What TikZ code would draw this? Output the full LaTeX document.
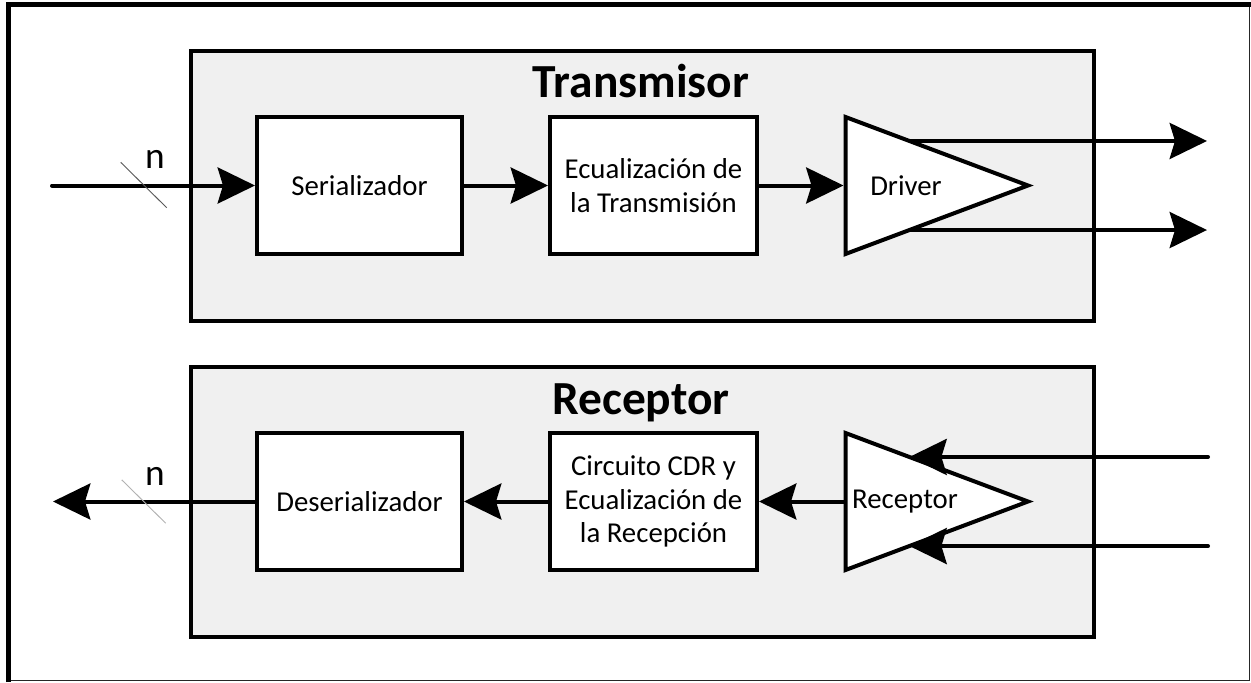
\documentclass[tikz,border=0pt]{standalone}
\usepackage{fontspec}
\setmainfont{Carlito}
\usetikzlibrary{arrows.meta,calc}
\definecolor{panelgray}{HTML}{F0F0F0}
\tikzset{
  panel/.style={draw, line width=3pt, fill=panelgray, inner sep=0pt},
  block/.style={draw, line width=3pt, fill=white, align=center, inner sep=0pt,
    minimum height=102.75pt, font=\fontsize{21.6}{25}\selectfont},
  heading/.style={anchor=base, font=\fontsize{35.6}{40}\selectfont\bfseries},
  amp/.style={draw, line width=3pt, fill=white, line join=miter},
  amplabel/.style={inner sep=0pt, font=\fontsize{21.6}{25}\selectfont},
  wire/.style={line width=3pt, line cap=round},
  flow/.style={wire, -{Stealth[length=28pt, width=27pt, inset=4pt]}},
  busmark/.style={line width=0.7pt},
  buslabel/.style={anchor=base, inner sep=0pt, font=\fontsize{28}{30}\selectfont},
}
\begin{document}
\begin{tikzpicture}[x=0.75pt, y=-0.75pt]
\useasboundingbox (0,0) rectangle (1251,682);

% outer frame: heavy top/left, light bottom/right
\draw[line width=1.2pt, black!85] (8.5,680.5) -- (1249.5,680.5) -- (1249.5,4.5);
\draw[line width=3.75pt] (8.5,682) -- (8.5,4.5) -- (1251,4.5);

% panels
\node[panel, minimum width=677.6pt, minimum height=202.5pt] (txpanel) at (642.25,186) {};
\node[panel, minimum width=677.6pt, minimum height=202.5pt] (rxpanel) at (642.25,502) {};
\node[heading] (txtitle) at (641,97) {Transmisor};
\node[heading] (rxtitle) at (641,414) {Receptor};

% ---------------- transmitter ----------------
\node[block, minimum width=153.75pt] (ser) at (359.5,185.5) {Serializador};
\node[block, minimum width=155.25pt] (eqtx) at (653.5,185.5) {Ecualización de\\la Transmisión};

\coordinate (drvT) at (845.5,117);
\coordinate (drvB) at (845.5,254);
\coordinate (drvA) at (1028,185.5);
\coordinate (drvIn) at (843.5,185.5);
\draw[amp] (drvT) -- (drvA) -- (drvB) -- cycle;
\node[amplabel] (drv) at (906,185.5) {Driver};

\coordinate (txin) at (52,185.5);
\coordinate (txend) at (1207,0);
\coordinate (drvO1) at ($(drvT)!0.35!(drvA)$);
\coordinate (drvO2) at ($(drvB)!0.35!(drvA)$);

\draw[flow] (txin) -- (ser.west);
\draw[flow] (ser.east) -- (eqtx.west);
\draw[flow] (eqtx.east) -- (drvIn);
\draw[flow, line cap=butt] (drvO1) -- (drvO1 -| txend);
\draw[flow, line cap=butt] (drvO2) -- (drvO2 -| txend);

\coordinate (txbus) at (143.7,185);
\draw[busmark, black!65] ($(txbus)+(-23,-22.7)$) -- ($(txbus)+(23,22.7)$);
\node[buslabel] (txn) at (155,168) {n};

% ---------------- receiver ----------------
\node[block, minimum width=153.75pt] (deser) at (359.5,501.5) {Deserializador};
\node[block, minimum width=155.25pt] (cdr) at (653.5,501.5) {Circuito CDR y\\Ecualización de\\la Recepción};

\coordinate (rxT) at (845.5,433);
\coordinate (rxB) at (845.5,570);
\coordinate (rxA) at (1028,501.5);
\coordinate (rxL) at (845.5,501.5);
\draw[amp] (rxT) -- (rxA) -- (rxB) -- cycle;
\node[amplabel] (rxamp) at (905,501.5) {Receptor};

\coordinate (rxend) at (1208,0);
\coordinate (rxE1) at ($(rxT)!0.35!(rxA)$);
\coordinate (rxE2) at ($(rxB)!0.35!(rxA)$);
\coordinate (rxout) at (53,501.5);

\draw[flow] (rxE1 -| rxend) -- (rxE1);
\draw[flow] (rxE2 -| rxend) -- (rxE2);
\draw[flow, line cap=butt] (rxL) -- (cdr.east);
\draw[flow] (cdr.west) -- (deser.east);
\draw[flow] (deser.west) -- (rxout);

\coordinate (rxbus) at (143.7,501.5);
\draw[busmark, black!30] ($(rxbus)+(-22,-21.7)$) -- ($(rxbus)+(22,21.7)$);
\node[buslabel] (rxn) at (155,485) {n};
\end{tikzpicture}
\end{document}
